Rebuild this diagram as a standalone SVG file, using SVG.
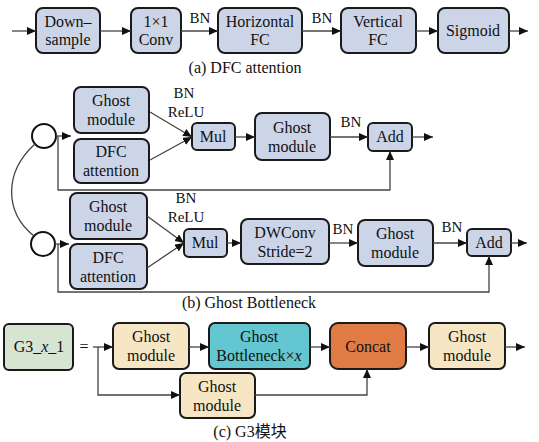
<svg xmlns="http://www.w3.org/2000/svg" width="539" height="442" viewBox="0 0 539 442" font-family="'Liberation Serif','Noto Sans CJK SC',serif">
<style>
.b{fill:#CCD5E8;stroke:#1a1a1a;stroke-width:2}
.y{fill:#F7E6C4;stroke:#1a1a1a;stroke-width:2}
.g{fill:#D6E4D2;stroke:#1a1a1a;stroke-width:2}
.t{fill:#63C6D0;stroke:#1a1a1a;stroke-width:2}
.o{fill:#E07B45;stroke:#1a1a1a;stroke-width:2}
.l{font-family:'Liberation Serif','Noto Sans CJK SC',serif;font-size:16px;fill:#111;text-anchor:middle}
.s{font-size:15px}
.c{fill:none;stroke:#444;stroke-width:1.3}
.a{fill:none;stroke:#444;stroke-width:1.3;marker-end:url(#ah)}
.ci{fill:#fff;stroke:#111;stroke-width:2}
</style>
<defs>
<marker id="ah" markerWidth="9" markerHeight="8" refX="9" refY="4" orient="auto" markerUnits="userSpaceOnUse">
<path d="M0,0 L9,4 L0,8 Z" fill="#111"/>
</marker>
</defs>
<rect width="539" height="442" fill="#fff"/>

<!-- (a) DFC attention -->
<g id="downsample"><rect class="b" x="36" y="8" width="64" height="45" rx="7"/><text class="l" x="68" y="27">Down–</text><text class="l" x="68" y="45">sample</text></g>
<g id="conv1x1"><rect class="b" x="131" y="8" width="50" height="45" rx="7"/><text class="l" x="156" y="27">1×1</text><text class="l" x="156" y="45">Conv</text></g>
<g id="horizfc"><rect class="b" x="218" y="8" width="84" height="45" rx="7"/><text class="l" x="260" y="27">Horizontal</text><text class="l" x="260" y="45">FC</text></g>
<g id="vertfc"><rect class="b" x="341" y="8" width="75" height="45" rx="7"/><text class="l" x="378" y="27">Vertical</text><text class="l" x="378" y="45">FC</text></g>
<g id="sigmoid"><rect class="b" x="438" y="8" width="71" height="45" rx="7"/><text class="l" x="473" y="36">Sigmoid</text></g>
<text class="l" x="245" y="73">(a) DFC attention</text>

<!-- (b) block 1 -->
<g id="split1"><circle class="ci" cx="44" cy="136" r="12"/></g>
<g id="ghostA1"><rect class="b" x="74" y="87" width="75" height="46" rx="7"/><text class="l" x="111" y="106">Ghost</text><text class="l" x="111" y="125">module</text></g>
<g id="dfcA1"><rect class="b" x="74" y="139" width="75" height="44" rx="7"/><text class="l" x="111" y="157">DFC</text><text class="l" x="111" y="176">attention</text></g>
<g id="mul1"><rect class="b" x="192" y="123" width="43" height="27" rx="5"/><text class="l" x="213" y="142">Mul</text></g>
<g id="ghostB1"><rect class="b" x="255" y="113" width="75" height="47" rx="7"/><text class="l" x="292" y="133">Ghost</text><text class="l" x="292" y="152">module</text></g>
<g id="add1"><rect class="b" x="368" y="123" width="44" height="28" rx="5"/><text class="l" x="390" y="142">Add</text></g>

<!-- (b) block 2 -->
<g id="split2"><circle class="ci" cx="43" cy="244" r="12"/></g>
<g id="ghostA2"><rect class="b" x="70" y="193" width="77" height="46" rx="7"/><text class="l" x="108" y="212">Ghost</text><text class="l" x="108" y="231">module</text></g>
<g id="dfcA2"><rect class="b" x="70" y="244" width="77" height="45" rx="7"/><text class="l" x="108" y="263">DFC</text><text class="l" x="108" y="282">attention</text></g>
<g id="mul2"><rect class="b" x="184" y="229" width="43" height="28" rx="5"/><text class="l" x="205" y="248">Mul</text></g>
<g id="dwconv"><rect class="b" x="241" y="219" width="88" height="45" rx="7"/><text class="l" x="285" y="238">DWConv</text><text class="l" x="285" y="257">Stride=2</text></g>
<g id="ghostB2"><rect class="b" x="358" y="220" width="75" height="46" rx="7"/><text class="l" x="395" y="239">Ghost</text><text class="l" x="395" y="258">module</text></g>
<g id="add2"><rect class="b" x="467" y="229" width="44" height="27" rx="5"/><text class="l" x="489" y="248">Add</text></g>
<text class="l" x="249" y="308">(b) Ghost Bottleneck</text>

<!-- (c) G3 -->
<g id="g3x1"><rect class="g" x="4" y="324" width="69" height="46" rx="5"/><text class="l" x="39" y="352">G3_<tspan font-style="italic">x</tspan>_1</text></g>
<text class="l" x="84" y="352">=</text>
<g id="ghostY1"><rect class="y" x="113" y="323" width="76" height="46" rx="6"/><text class="l" x="151" y="342">Ghost</text><text class="l" x="151" y="361">module</text></g>
<g id="bottleneckx"><rect class="t" x="209" y="323" width="101" height="46" rx="6"/><text class="l" x="259" y="342">Ghost</text><text class="l" x="259" y="361">Bottleneck×<tspan font-style="italic">x</tspan></text></g>
<g id="concat"><rect class="o" x="330" y="323" width="76" height="46" rx="8"/><text class="l" x="368" y="352">Concat</text></g>
<g id="ghostY3"><rect class="y" x="429" y="323" width="76" height="46" rx="6"/><text class="l" x="467" y="342">Ghost</text><text class="l" x="467" y="361">module</text></g>
<g id="ghostY2"><rect class="y" x="180" y="373" width="75" height="45" rx="6"/><text class="l" x="217" y="392">Ghost</text><text class="l" x="217" y="411">module</text></g>
<text class="l" x="250" y="437">(c) G3模块</text>

<g id="connectors">
<!-- a -->
<line class="a" x1="12" y1="31" x2="36" y2="31"/>
<line class="a" x1="100" y1="31" x2="131" y2="31"/>
<line class="a" x1="181" y1="31" x2="218" y2="31"/>
<line class="a" x1="302" y1="31" x2="341" y2="31"/>
<line class="a" x1="416" y1="31" x2="438" y2="31"/>
<line class="a" x1="509" y1="31" x2="528" y2="31"/>
<text class="l s" x="200" y="23">BN</text>
<text class="l s" x="322" y="23">BN</text>
<!-- b1 -->
<path class="c" d="M35,144 C4,172 4,212 34,236"/>
<line class="a" x1="56" y1="136" x2="71" y2="136"/>
<path class="a" d="M58,136 V190 H390 V151"/>
<line class="a" x1="150" y1="112" x2="192" y2="137"/>
<line class="a" x1="150" y1="160" x2="192" y2="137"/>
<text class="l s" x="184" y="98">BN</text>
<text class="l s" x="186" y="117">ReLU</text>
<line class="a" x1="235" y1="137" x2="255" y2="137"/>
<line class="a" x1="330" y1="137" x2="368" y2="137"/>
<text class="l s" x="351" y="127">BN</text>
<line class="a" x1="412" y1="137" x2="433" y2="137"/>
<!-- b2 -->
<line class="a" x1="55" y1="244" x2="69" y2="244"/>
<path class="a" d="M58,244 V292 H489 V256"/>
<line class="a" x1="147" y1="216" x2="184" y2="243"/>
<line class="a" x1="147" y1="268" x2="184" y2="243"/>
<text class="l s" x="186" y="203">BN</text>
<text class="l s" x="186" y="222">ReLU</text>
<line class="a" x1="227" y1="243" x2="241" y2="243"/>
<line class="a" x1="329" y1="243" x2="358" y2="243"/>
<text class="l s" x="343" y="234">BN</text>
<line class="a" x1="433" y1="243" x2="467" y2="243"/>
<text class="l s" x="452" y="232">BN</text>
<line class="a" x1="511" y1="243" x2="527" y2="243"/>
<!-- c -->
<line class="a" x1="93" y1="347" x2="113" y2="347"/>
<path class="a" d="M98,347 V395 H180"/>
<line class="a" x1="189" y1="347" x2="209" y2="347"/>
<line class="a" x1="310" y1="347" x2="330" y2="347"/>
<line class="a" x1="406" y1="347" x2="429" y2="347"/>
<line class="a" x1="505" y1="347" x2="525" y2="347"/>
<path class="a" d="M255,395 H367 V369"/>
</g>
</svg>
